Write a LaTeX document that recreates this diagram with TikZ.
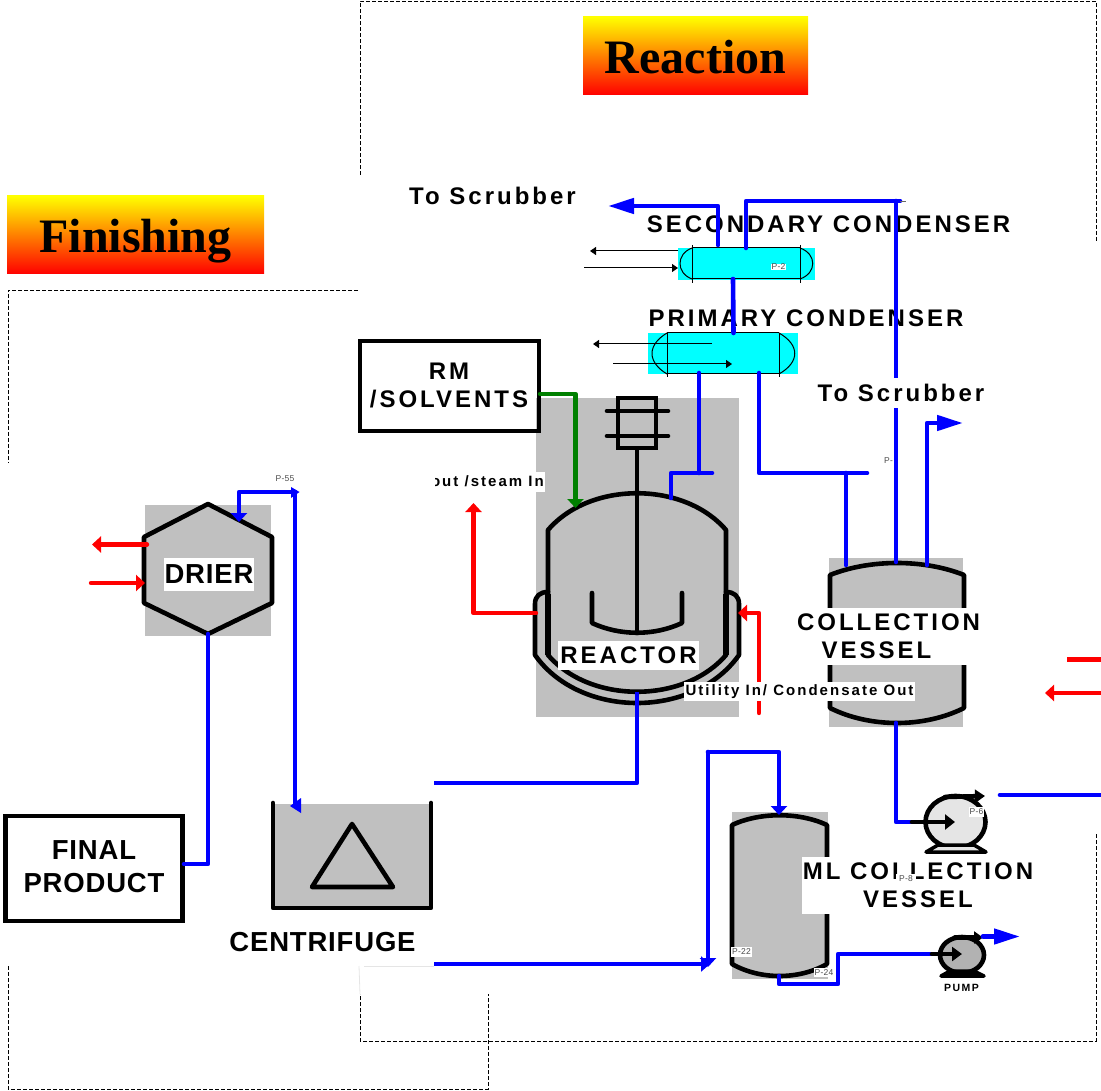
\documentclass[tikz,border=0pt]{standalone}
\usepackage{fontspec}
\usetikzlibrary{arrows.meta,shapes.geometric}
\setmainfont{Liberation Sans}
\newfontfamily\widefont[LetterSpace=12.5]{Liberation Sans}
\newfontfamily\utilfont[LetterSpace=13.5]{Liberation Sans}
\newfontfamily\tightfont[LetterSpace=3]{Liberation Sans}
\newfontfamily\titlefont{Liberation Serif}
\definecolor{pipeblue}{RGB}{0,0,255}
\definecolor{vesselgray}{RGB}{192,192,192}
\definecolor{condcyan}{RGB}{0,255,255}
\tikzset{
  graybox/.style={fill=vesselgray,draw=none,inner sep=0pt},
  cyanbox/.style={fill=condcyan,draw=none,inner sep=0pt},
  titlebox/.style={inner sep=0pt,text height=46pt,text depth=10pt,top color=yellow,bottom color=red,middle color=orange,font=\titlefont\bfseries\fontsize{48}{50}\selectfont},
  heavy/.style={line width=4.6pt,line join=round,line cap=round,black},
  thinline/.style={line width=1pt,black},
  pipe/.style={line width=4.6pt,line join=round,line cap=round,pipeblue},
  redpipe/.style={line width=4.4pt,line join=round,line cap=round,red},
  greenpipe/.style={line width=4.4pt,line join=round,line cap=round,green!50!black},
  bighead/.style={-{Triangle[length=26pt,width=15pt]}},
  midhead/.style={-{Triangle[length=9pt,width=16pt]}},
  thinhead/.style={-{Triangle[length=6pt,width=8pt]}},
  frameline/.style={line width=0.9pt,dash pattern=on 4pt off 2pt,black},
  wide/.style={inner sep=0pt,align=center,font=\widefont\bfseries\fontsize{24}{28}\selectfont},
  widew/.style={wide,fill=white},
  tight/.style={inner sep=0pt,align=center,font=\tightfont\bfseries\fontsize{27.5}{33}\selectfont},
  util/.style={inner sep=0pt,fill=white,font=\utilfont\bfseries\fontsize{15}{17}\selectfont},
  tag/.style={inner sep=0.5pt,text=black!70,font=\tightfont\fontsize{8.5}{9}\selectfont},
  tagw/.style={tag,fill=white},
}
\begin{document}
\begin{tikzpicture}[x=1pt,y=-1pt]
\useasboundingbox (0,0) rectangle (1101,1091);
% frames
\coordinate (ra) at (360,1); \coordinate (rb) at (1096,1); \coordinate (rc) at (1096,241);
\coordinate (rd) at (360,175); \coordinate (re) at (1096,834); \coordinate (rf) at (1096,1041);
\coordinate (rg) at (360,1041); \coordinate (rh) at (360,994);
\draw[frameline] (rd) -- (ra) -- (rb) -- (rc);
\draw[frameline] (re) -- (rf) -- (rg) -- (rh);
\coordinate (fa) at (358,290); \coordinate (fb) at (8,290); \coordinate (fc) at (8,463);
\coordinate (fd) at (8,966); \coordinate (fe) at (8,1089); \coordinate (ff) at (488,1089); \coordinate (fg) at (488,994);
\draw[frameline] (fa) -- (fb) -- (fc);
\draw[frameline] (fd) -- (fe) -- (ff) -- (fg);
\coordinate (fh) at (364,966); \coordinate (fi) at (434,966); \coordinate (fj) at (359,966);
\draw[line width=0.8pt,black!10] (fh) -- (fi);
\draw[line width=0.8pt,black!10] (fj) -- (rh);
% titles
\node[titlebox,minimum width=225pt,minimum height=78pt] (reactiontitle) at (695.5,56) {Reaction};
\node[titlebox,minimum width=257pt,minimum height=78pt] (finishingtitle) at (135.5,235) {Finishing};
% gray backgrounds
\node[graybox,minimum width=203pt,minimum height=319pt] (reactorbg) at (637.5,557.5) {};
\node[graybox,minimum width=134pt,minimum height=169pt] (collbg) at (896,642.5) {};
\node[graybox,minimum width=96pt,minimum height=167pt] (mlbg) at (780,895.5) {};
\node[graybox,minimum width=126pt,minimum height=131pt] (drierbg) at (208,570.5) {};
\node[graybox,minimum width=157pt,minimum height=104pt] (centbg) at (351.5,856) {};
\node[cyanbox,minimum width=137pt,minimum height=32pt] (seccond) at (746.5,264) {};
\node[cyanbox,minimum width=150pt,minimum height=41pt] (primcond) at (723,353.5) {};
% condensers
\draw[thinline] (692,248) -- (800,248) (692,279) -- (800,279);
\draw[thinline] (692,245) -- (692,283) (800,245) -- (800,283);
\draw[thinline] (692,248) .. controls (676,254) and (676,273) .. (692,279);
\draw[thinline] (800,248) .. controls (817,254) and (817,273) .. (800,279);
\draw[thinline] (667,333) -- (779,333) (667,374) -- (779,374);
\draw[thinline] (667,333) -- (667,377) (779,333) -- (779,377);
\draw[thinline] (667,333) .. controls (647,345) and (647,362) .. (667,374);
\draw[thinline] (779,333) .. controls (800,345) and (800,362) .. (779,374);
\coordinate (sa) at (678,251); \coordinate (sb) at (590,251);
\coordinate (sc) at (584,268); \coordinate (sd) at (678,268);
\coordinate (pa) at (712,344); \coordinate (pb) at (593,344);
\coordinate (pc) at (613,364); \coordinate (pd) at (732,364);
\draw[thinline,thinhead] (sa) -- (sb);
\draw[thinline,thinhead] (sc) -- (sd);
\draw[thinline,thinhead] (pa) -- (pb);
\draw[thinline,thinhead] (pc) -- (pd);
\node[tagw] (p2) at (778.5,267) {P-2};
% reactor
\draw[heavy] (548,655) -- (548,530) .. controls (590,481) and (684,481) .. (726,530) -- (726,655) .. controls (684,704) and (590,704) .. (548,655) -- cycle;
\draw[line width=6.5pt,black] (548,594) -- (548,655) (726,594) -- (726,655);
\draw[heavy] (548,592) .. controls (540,592) and (535,596) .. (535,604) -- (535,655) .. controls (580,719) and (694,719) .. (739,655) -- (739,604) .. controls (739,596) and (734,592) .. (726,592);
\draw[heavy] (592,593) -- (592,623) .. controls (620,636) and (654,636) .. (682,623) -- (682,593);
\node[draw,line width=4.6pt,minimum width=38pt,minimum height=50pt,inner sep=0pt] (motor) at (637,423) {};
\coordinate (shaftend) at (637,633);
\draw[heavy] (motor.south) -- (shaftend);
\coordinate (ma) at (607,411); \coordinate (mb) at (668,411); \coordinate (mc) at (607,436); \coordinate (md) at (668,436);
\draw[heavy] (ma) -- (mb);
\draw[heavy] (mc) -- (md);
\node[widew,minimum width=141pt,minimum height=29pt] (reactorlabel) at (628.5,655.5) {REACTOR};
% collection vessel
\draw[heavy] (830,708) -- (830,575) .. controls (870,559) and (924,559) .. (964,575) -- (964,708) .. controls (924,728) and (870,728) .. (830,708) -- cycle;
% ML vessel
\draw[heavy] (732,964) -- (732,825) .. controls (760,812) and (799,812) .. (827,825) -- (827,964) .. controls (799,980) and (760,980) .. (732,964) -- cycle;
% drier
\draw[heavy] (208,504) -- (272,537) -- (272,603) -- (208,634) -- (144,603) -- (144,537) -- cycle;
% centrifuge
\draw[heavy] (273,803) -- (273,908) -- (431,908) -- (431,803);
\draw[heavy] (352,824) -- (393,887) -- (312,887) -- cycle;
% boxes
\node[draw,line width=4.6pt,minimum width=179pt,minimum height=90pt,inner sep=0pt] (rmbox) at (449.5,386) {};
\node[wide] (rmlabel) at (449,385) {RM\\/SOLVENTS};
\node[draw,line width=4.6pt,minimum width=177pt,minimum height=105pt,inner sep=0pt] (finalbox) at (94,868.5) {};
\node[tight] (finallabel) at (94,867) {FINAL\\PRODUCT};
% text under the pipes
\node[wide] (tos1) at (492.5,196) {To Scrubber};
\node[wide] (seclabel) at (828.5,224) {SECONDARY CONDENSER};
\node[wide] (primlabel) at (806,318) {PRIMARY CONDENSER};
\node[tag] (pq) at (888.5,461) {P-};
\node[tag] (p55) at (285,479) {P-55};
% pumps
\node[ellipse,draw,line width=4.6pt,fill=black!10,minimum width=60pt,minimum height=52pt,inner sep=0pt] (pump1) at (955.5,822) {};
\node[ellipse,draw,line width=4.6pt,fill=black!30,minimum width=44pt,minimum height=36pt,inner sep=0pt] (pump2) at (962,955) {};
\draw[heavy,fill=black!10,line width=3.5pt] (926,852) -- (938,845) -- (974,845) -- (986,852) -- cycle;
\draw[heavy,fill=black,line width=3.5pt] (941,976) -- (950,971) -- (974,971) -- (984,976) -- cycle;
% pipes
\coordinate (sout) at (718,245); \coordinate (sbend1) at (718,206); \coordinate (stip) at (608,206);
\draw[pipe,bighead] (sout) -- (sbend1) -- (stip);
\coordinate (sout2) at (746,248); \coordinate (sb2) at (746,201); \coordinate (sb3) at (896,201); \coordinate (cin2) at (896,562); \coordinate (sb4) at (900,201);
\draw[pipe] (sout2) -- (sb2) -- (sb4) (sb3) -- (cin2);
\coordinate (stub) at (906,201);
\draw[line width=0.8pt,black!60] (sb4) -- (stub);
\coordinate (s2p1) at (733,279); \coordinate (s2p2) at (733.5,333);
\draw[pipe] (s2p1) -- (s2p2);
\coordinate (po1) at (699,373); \coordinate (po2) at (699,473); \coordinate (po3) at (712,473); \coordinate (po4) at (671,473); \coordinate (po5) at (671,498);
\draw[pipe] (po1) -- (po2);
\draw[pipe] (po3) -- (po4) -- (po5);
\coordinate (pq1) at (759,373); \coordinate (pq2) at (759,473); \coordinate (pq3) at (867,473); \coordinate (pq4) at (846,473); \coordinate (pq5) at (846,565);
\draw[pipe] (pq1) -- (pq2) -- (pq3);
\draw[pipe] (pq4) -- (pq5);
\coordinate (cv1) at (927,565); \coordinate (cv2) at (927,423); \coordinate (cv3) at (963,423);
\draw[pipe,bighead] (cv1) -- (cv2) -- (cv3);
\coordinate (rx1) at (637,692); \coordinate (rx2) at (637,783); \coordinate (rx3) at (434,783);
\draw[pipe,line cap=butt] (rx1) -- (rx2) -- (rx3);
\coordinate (gr1) at (540,394); \coordinate (gr2) at (575.5,394); \coordinate (gr3) at (575.5,508);
\draw[greenpipe,midhead] (gr1) -- (gr2) -- (gr3);
\coordinate (rr1) at (536,613); \coordinate (rr2) at (473.5,613); \coordinate (rr3) at (473.5,503);
\draw[redpipe,midhead] (rr1) -- (rr2) -- (rr3);
\coordinate (rq1) at (759,713); \coordinate (rq2) at (759,613); \coordinate (rq3) at (738,613);
\draw[redpipe,midhead] (rq1) -- (rq2) -- (rq3);
\coordinate (xr1) at (1067,659.5); \coordinate (xr2) at (1101,659.5);
\draw[redpipe,line cap=butt] (xr1) -- (xr2);
\coordinate (xr3) at (1101,693); \coordinate (xr4) at (1045,693);
\draw[redpipe,midhead] (xr3) -- (xr4);
\coordinate (dr1) at (147,544.5); \coordinate (dr2) at (92,544.5);
\draw[redpipe,midhead] (dr1) -- (dr2);
\coordinate (dr3) at (91,583); \coordinate (dr4) at (145,583);
\draw[redpipe,midhead] (dr3) -- (dr4);
\coordinate (cb1) at (896,723); \coordinate (cb2) at (896,822); \coordinate (cb3) at (912,822); \coordinate (cb4) at (955,822);
\draw[pipe] (cb1) -- (cb2) -- (cb3);
\draw[heavy,-{Triangle[length=10pt,width=15pt]}] (cb3) -- (cb4);
\coordinate (po6) at (945,797); \coordinate (po7) at (985,796);
\draw[heavy,-{Triangle[length=10pt,width=13pt]}] (po6) -- (po7);
\coordinate (bl1) at (1000,795); \coordinate (bl2) at (1101,795);
\draw[pipe] (bl1) -- (bl2);
\coordinate (ml1) at (708,967); \coordinate (ml2) at (708,752); \coordinate (ml3) at (779,752); \coordinate (ml4) at (779,815);
\draw[pipe,midhead] (ml2) -- (ml1);
\draw[pipe,midhead] (ml2) -- (ml3) -- (ml4);
\coordinate (ce1) at (434,964); \coordinate (ce2) at (710,964);
\draw[pipe,line cap=butt,-{Triangle[length=9pt,width=15pt]}] (ce1) -- (ce2);
\coordinate (mb1) at (779,976); \coordinate (mb2) at (779,984); \coordinate (mb3) at (838,984); \coordinate (mb4) at (838,954); \coordinate (mb5) at (932,954); \coordinate (mb6) at (962,954);
\draw[pipe] (mb1) -- (mb2) -- (mb3) -- (mb4) -- (mb5);
\draw[heavy,-{Triangle[length=10pt,width=14pt]}] (mb5) -- (mb6);
\coordinate (pu1) at (955,937.5); \coordinate (pu2) at (983,937.5);
\draw[heavy,-{Triangle[length=9pt,width=12pt]}] (pu1) -- (pu2);
\coordinate (pu3) at (983,936.5); \coordinate (pu4) at (1020,936.5);
\draw[pipe,bighead] (pu3) -- (pu4);
\coordinate (dc1) at (208,634); \coordinate (dc2) at (208,864); \coordinate (dc3) at (184,864);
\draw[pipe] (dc1) -- (dc2) -- (dc3);
\coordinate (de1) at (295,804); \coordinate (de2) at (295,492); \coordinate (de3) at (239,492); \coordinate (de4) at (239,522);
\draw[pipe] (de1) -- (de2);
\draw[pipe,midhead] (de2) -- (de3) -- (de4);
\fill[pipeblue] (291,487) -- (299.5,492) -- (291,498) -- cycle;
\fill[pipeblue] (290,806) -- (301,798) -- (301,813) -- cycle;
% labels over the pipes
\node[wide,fill=white,minimum width=166pt,minimum height=30pt] (tos2) at (901,393) {To Scrubber};
\node[util,minimum width=231pt,minimum height=19pt] (utility) at (799.5,691.5) {Utility In/ Condensate Out};
\node[util,anchor=east,minimum height=20pt,inner xsep=1pt] (steam) at (545,481.5) {out /steam In};
\fill[white] (410,470) rectangle (434.5,494);
\node[widew,minimum width=190pt,minimum height=57pt] (colllabel) at (888.5,636.5) {COLLECTION\\VESSEL\hspace*{24pt}};
\node[widew,minimum width=232pt,minimum height=57pt] (mllabel) at (918,885.5) {ML COLLECTION\\VESSEL};
\node[inner sep=0pt,fill=white,minimum width=90pt,minimum height=33pt,font=\tightfont\bfseries\fontsize{27.5}{33}\selectfont] (drierlabel) at (209,574.5) {DRIER};
\node[tight] (centlabel) at (322.5,942) {CENTRIFUGE};
\node[inner sep=0pt,font=\utilfont\bfseries\fontsize{10.5}{12}\selectfont] (pumplabel) at (961.5,988) {PUMP};
\node[tagw,minimum width=15pt,minimum height=10pt] (p6) at (976.5,812) {P-6};
\node[tagw,minimum width=20pt,minimum height=10pt] (p8) at (906,879) {P-8};
\node[tagw,minimum width=21pt,minimum height=10pt] (p22) at (741.5,952) {P-22};
\node[tagw,minimum width=20pt,minimum height=9pt] (p24) at (824,972.5) {P-24};
\end{tikzpicture}
\end{document}
